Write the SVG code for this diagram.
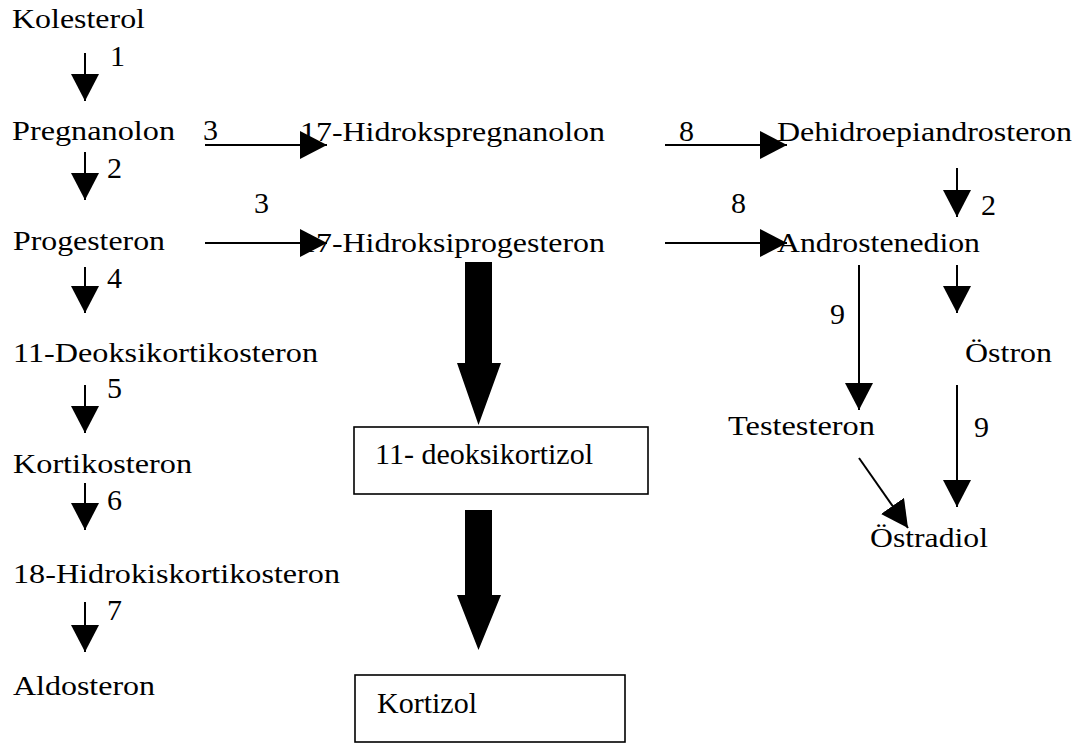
<svg xmlns="http://www.w3.org/2000/svg" width="1084" height="744" viewBox="0 0 1084 744">
<style>
text{font-family:'Liberation Serif','Times New Roman',Tinos,'DejaVu Serif',serif;fill:#000}
.t{font-size:28px}
.b{font-size:30px}
.n{font-size:30px}
.a{stroke:#000;stroke-width:2;fill:none;marker-end:url(#h)}
.box{fill:#fff;stroke:#000;stroke-width:1.6}
.big{fill:#000}
</style>
<defs>
<marker id="h" markerUnits="userSpaceOnUse" markerWidth="28" markerHeight="28" refX="27" refY="14" orient="auto" viewBox="0 0 28 28">
<path d="M0,0 L27,14 L0,28 Z" fill="#000"/>
</marker>
</defs>
<rect width="1084" height="744" fill="#fff"/>

<g id="connectors" font-family="Liberation Serif, serif">
<line class="a" x1="85" y1="53" x2="85" y2="101"/>
<line class="a" x1="85" y1="152" x2="85" y2="200"/>
<line class="a" x1="85" y1="267" x2="85" y2="313"/>
<line class="a" x1="85" y1="385" x2="85" y2="433"/>
<line class="a" x1="85" y1="483" x2="85" y2="530"/>
<line class="a" x1="85" y1="602" x2="85" y2="652"/>
<line class="a" x1="205" y1="145" x2="327" y2="145"/>
<line class="a" x1="205" y1="243" x2="327" y2="243"/>
<line class="a" x1="665" y1="145" x2="787" y2="145"/>
<line class="a" x1="665" y1="243" x2="787" y2="243"/>
<line class="a" x1="957" y1="168" x2="957" y2="217"/>
<line class="a" x1="957" y1="265" x2="957" y2="313"/>
<line class="a" x1="957" y1="385" x2="957" y2="507"/>
<line class="a" x1="859" y1="265" x2="859" y2="410"/>
<line class="a" x1="859" y1="458" x2="908" y2="528"/>
<polygon class="big" points="465,262 492,262 492,363 501,363 478.5,425 457,363 465,363"/>
<polygon class="big" points="465,510 492,510 492,595 501,595 478.5,650 457,595 465,595"/>
<text class="n" x="110" y="66">1</text>
<text class="n" x="203" y="140">3</text>
<text class="n" x="107" y="178">2</text>
<text class="n" x="254" y="213">3</text>
<text class="n" x="679" y="141">8</text>
<text class="n" x="731" y="213">8</text>
<text class="n" x="981" y="215">2</text>
<text class="n" x="107" y="288">4</text>
<text class="n" x="107" y="398">5</text>
<text class="n" x="107" y="510">6</text>
<text class="n" x="107" y="620">7</text>
<text class="n" x="830" y="324">9</text>
<text class="n" x="974" y="437">9</text>
</g>

<g id="kolesterol"><text class="t" x="12" y="28" textLength="133" lengthAdjust="spacingAndGlyphs">Kolesterol</text></g>
<g id="pregnanolon"><text class="t" x="12" y="140" textLength="163" lengthAdjust="spacingAndGlyphs">Pregnanolon</text></g>
<g id="progesteron"><text class="t" x="13" y="250" textLength="152" lengthAdjust="spacingAndGlyphs">Progesteron</text></g>
<g id="deoksikortikosteron"><text class="t" x="13" y="362" textLength="305" lengthAdjust="spacingAndGlyphs">11-Deoksikortikosteron</text></g>
<g id="kortikosteron"><text class="t" x="13" y="473" textLength="179" lengthAdjust="spacingAndGlyphs">Kortikosteron</text></g>
<g id="hidrokiskortikosteron"><text class="t" x="13" y="583" textLength="327" lengthAdjust="spacingAndGlyphs">18-Hidrokiskortikosteron</text></g>
<g id="aldosteron"><text class="t" x="13" y="695" textLength="142" lengthAdjust="spacingAndGlyphs">Aldosteron</text></g>
<g id="hidrokspregnanolon"><text class="t" x="300" y="141" textLength="305" lengthAdjust="spacingAndGlyphs">17-Hidrokspregnanolon</text></g>
<g id="hidroksiprogesteron"><text class="t" x="300" y="252" textLength="305" lengthAdjust="spacingAndGlyphs">17-Hidroksiprogesteron</text></g>
<g id="dehidroepiandrosteron"><text class="t" x="777" y="141" textLength="295" lengthAdjust="spacingAndGlyphs">Dehidroepiandrosteron</text></g>
<g id="androstenedion"><text class="t" x="777" y="252" textLength="203" lengthAdjust="spacingAndGlyphs">Androstenedion</text></g>
<g id="ostron"><text class="t" x="965" y="362" textLength="87" lengthAdjust="spacingAndGlyphs">Östron</text></g>
<g id="testesteron"><text class="t" x="728" y="435" textLength="147" lengthAdjust="spacingAndGlyphs">Testesteron</text></g>
<g id="ostradiol"><text class="t" x="870" y="547" textLength="118" lengthAdjust="spacingAndGlyphs">Östradiol</text></g>
<g id="deoksikortizol"><rect class="box" x="354" y="427" width="294" height="67"/><text class="b" x="375" y="464">11- deoksikortizol</text></g>
<g id="kortizol"><rect class="box" x="355" y="675" width="270" height="67"/><text class="b" x="377" y="713">Kortizol</text></g>
</svg>
